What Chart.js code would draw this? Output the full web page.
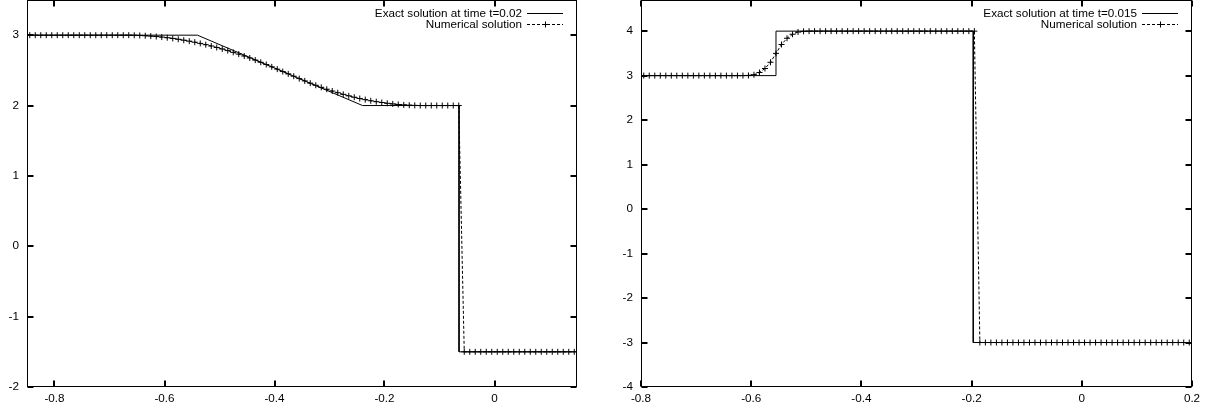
<!DOCTYPE html>
<html>
<head>
<meta charset="utf-8">
<script src="https://cdn.jsdelivr.net/npm/chart.js@4.4.0/dist/chart.umd.min.js"></script>
<style>
  html, body { margin: 0; padding: 0; background: #fff; }
  #wrap { position: relative; width: 1215px; height: 409px; }
  .box { position: absolute; top: 0; height: 409px; }
  #leftBox { left: 0; width: 607px; }
  #rightBox { left: 607px; width: 608px; }
</style>
</head>
<body>
<div id="wrap">
  <div class="box" id="leftBox"><canvas id="leftChart"></canvas></div>
  <div class="box" id="rightBox"><canvas id="rightChart"></canvas></div>
</div>
<script>
// --- left panel: t = 0.02 ---
const leftLabels = ['Exact solution at time t=0.02', 'Numerical solution'];
const leftExactX = [-0.85, -0.54, -0.24, -0.0645, -0.0645, 0.15];
const leftExactY = [3, 3, 2, 2, -1.5, -1.5];
const leftMeshStart = -0.845;          // cell centres, dx = 0.01
const leftNumY = [
  3, 3, 3, 3, 3, 3, 3, 3, 3, 3, 3, 3, 3, 3, 3, 3, 3, 3, 3,
  2.999, 2.996, 2.992, 2.987, 2.981, 2.973, 2.964, 2.954, 2.942, 2.929,
  2.915, 2.900, 2.883, 2.865, 2.846, 2.825, 2.804, 2.781, 2.756, 2.731,
  2.704, 2.676, 2.646, 2.615, 2.583,
  2.550, 2.517, 2.483, 2.450, 2.417, 2.383,
  2.350, 2.318, 2.288, 2.259, 2.232, 2.206, 2.182, 2.159, 2.138, 2.118,
  2.100, 2.084, 2.068, 2.055, 2.043, 2.032, 2.023, 2.015, 2.009, 2.005, 2.002,
  2, 2, 2, 2, 2, 2, 2, 2,
  -1.5, -1.5, -1.5, -1.5, -1.5, -1.5, -1.5, -1.5, -1.5, -1.5, -1.5,
  -1.5, -1.5, -1.5, -1.5, -1.5, -1.5, -1.5, -1.5, -1.5, -1.5
];
const leftXRange = [-0.85, 0.15];
const leftYRange = [-2, 3.5];
const leftXTicks = [-0.8, -0.6, -0.4, -0.2, 0];
const leftYTicks = [-2, -1, 0, 1, 2, 3];

// --- right panel: t = 0.015 ---
const rightLabels = ['Exact solution at time t=0.015', 'Numerical solution'];
const rightExactX = [-0.8, -0.555, -0.555, -0.197, -0.197, 0.2];
const rightExactY = [3, 3, 4, 4, -3, -3];
const rightMeshStart = -0.795;
const rightNumY = [
  3, 3, 3, 3, 3, 3, 3, 3, 3, 3, 3, 3, 3, 3, 3, 3, 3,
  3.000, 3.001, 3.004, 3.02, 3.07, 3.16, 3.30, 3.50, 3.70, 3.84, 3.93, 3.98, 3.996, 3.999,
  4, 4, 4, 4, 4, 4, 4, 4, 4, 4, 4, 4, 4, 4, 4,
  4, 4, 4, 4, 4, 4, 4, 4, 4, 4, 4, 4, 4, 4, 4,
  -3, -3, -3, -3, -3, -3, -3, -3, -3, -3, -3, -3, -3,
  -3, -3, -3, -3, -3, -3, -3, -3, -3, -3, -3, -3, -3,
  -3, -3, -3, -3, -3, -3, -3, -3, -3, -3, -3, -3, -3
];
const rightXRange = [-0.8, 0.2];
const rightYRange = [-4, 4.7];
const rightXTicks = [-0.8, -0.6, -0.4, -0.2, 0, 0.2];
const rightYTicks = [-4, -3, -2, -1, 0, 1, 2, 3, 4];

const meshDx = 0.01;

const FONT = { family: '"Liberation Sans", Arial, sans-serif', size: 11.7 };

const toPoints = (xs, ys) => ys.map((y, i) => ({ x: xs[i], y: y }));
const meshPoints = (start, ys) => ys.map((y, i) => ({ x: +(start + i * meshDx).toFixed(4), y: y }));

// gnuplot-like frame with inward ticks on all four sides
const frameTicks = {
  id: 'frameTicks',
  afterDraw(chart) {
    const { ctx, chartArea: a, scales } = chart;
    const L = Math.round(a.left) + 0.5, R = Math.round(a.right) - 0.5;
    const T = Math.round(a.top) + 0.5, B = Math.round(a.bottom) - 0.5;
    ctx.save();
    ctx.strokeStyle = '#000';
    ctx.lineWidth = 1;
    ctx.strokeRect(L, T, R - L, B - T);
    ctx.lineWidth = 2;
    ctx.beginPath();
    scales.x.ticks.forEach(t => {
      const px = Math.round(scales.x.getPixelForValue(t.value));
      ctx.moveTo(px, B); ctx.lineTo(px, B - 6);
      ctx.moveTo(px, T); ctx.lineTo(px, T + 6);
    });
    scales.y.ticks.forEach(t => {
      const py = Math.round(scales.y.getPixelForValue(t.value));
      ctx.moveTo(L, py); ctx.lineTo(L + 6, py);
      ctx.moveTo(R, py); ctx.lineTo(R - 6, py);
    });
    ctx.stroke();
    ctx.restore();
  }
};

// key in the top right corner: text, then line sample
const keyBox = {
  id: 'keyBox',
  afterDraw(chart) {
    const { ctx, chartArea: a } = chart;
    const x1 = a.right - 14, x0 = x1 - 36;
    ctx.save();
    ctx.font = FONT.size + 'px ' + FONT.family;
    ctx.textAlign = 'right';
    ctx.textBaseline = 'middle';
    ctx.fillStyle = '#000';
    chart.data.datasets.forEach((ds, i) => {
      const y = Math.round(a.top + 13 + i * 11) + 0.5;
      ctx.fillText(ds.label, x0 - 5, y);
      ctx.strokeStyle = '#000';
      ctx.lineWidth = 1;
      ctx.setLineDash(ds.borderDash || []);
      ctx.beginPath();
      ctx.moveTo(x0, y); ctx.lineTo(x1, y);
      ctx.stroke();
      if (ds.pointRadius) {
        const cx = Math.round((x0 + x1) / 2) + 0.5, r = ds.pointRadius;
        ctx.setLineDash([]);
        ctx.beginPath();
        ctx.moveTo(cx - r, y); ctx.lineTo(cx + r, y);
        ctx.moveTo(cx, y - r); ctx.lineTo(cx, y + r);
        ctx.stroke();
      }
    });
    ctx.restore();
  }
};

function makeChart(id, labels, exactX, exactY, meshStart, numY, xr, yr, xTicks, yTicks, yWidth, rightPad) {
  return new Chart(document.getElementById(id), {
    type: 'scatter',
    data: {
      datasets: [{
        label: labels[0],
        data: toPoints(exactX, exactY),
        showLine: true,
        borderColor: '#000',
        borderWidth: 1,
        pointRadius: 0,
        tension: 0,
        order: 1
      }, {
        label: labels[1],
        data: meshPoints(meshStart, numY),
        showLine: true,
        borderColor: '#000',
        borderWidth: 1,
        borderDash: [3, 2],
        pointStyle: 'cross',
        pointRadius: 3,
        pointBorderColor: '#000',
        pointBorderWidth: 1,
        tension: 0,
        order: 0
      }]
    },
    options: {
      responsive: true,
      maintainAspectRatio: false,
      animation: false,
      layout: { autoPadding: false, padding: { left: 0, right: rightPad, top: 0, bottom: 0 } },
      plugins: { legend: { display: false }, tooltip: { enabled: false } },
      scales: {
        x: {
          type: 'linear', min: xr[0], max: xr[1],
          grid: { display: false, drawTicks: false },
          border: { display: false },
          ticks: { color: '#000', font: FONT, padding: 5, maxRotation: 0, autoSkip: false },
          afterBuildTicks: s => { s.ticks = xTicks.map(v => ({ value: v })); },
          afterFit: s => { s.height = 22; s.paddingLeft = 0; s.paddingRight = 0; }
        },
        y: {
          type: 'linear', min: yr[0], max: yr[1],
          grid: { display: false, drawTicks: false },
          border: { display: false },
          ticks: { color: '#000', font: FONT, padding: 8 },
          afterBuildTicks: s => { s.ticks = yTicks.map(v => ({ value: v })); },
          afterFit: s => { s.width = yWidth; s.paddingTop = 0; s.paddingBottom = 0; }
        }
      }
    },
    plugins: [frameTicks, keyBox]
  });
}

makeChart('leftChart', leftLabels, leftExactX, leftExactY, leftMeshStart, leftNumY,
  leftXRange, leftYRange, leftXTicks, leftYTicks, 27, 30);
makeChart('rightChart', rightLabels, rightExactX, rightExactY, rightMeshStart, rightNumY,
  rightXRange, rightYRange, rightXTicks, rightYTicks, 34, 23);
</script>
</body>
</html>
